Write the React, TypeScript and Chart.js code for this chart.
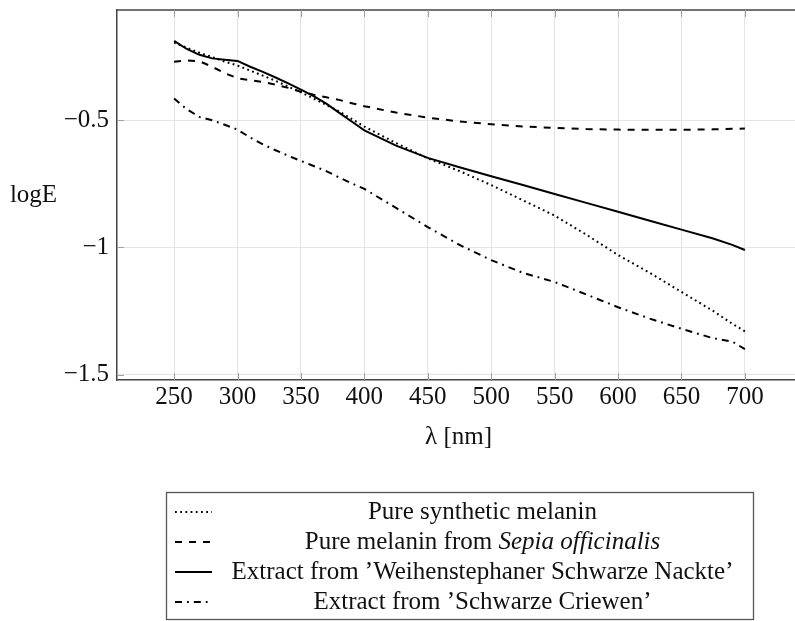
import { useEffect, useRef } from "react";
import { Chart, registerables } from "chart.js";

Chart.register(...registerables);

// ---- data ----
const wavelengths = [250, 260, 270, 280, 290, 300, 310, 320, 330, 340, 350, 360, 370, 380, 390, 400, 425, 450, 475, 500, 525, 550, 575, 600, 625, 650, 675, 690, 700];

const syntheticMelanin = [-0.195, -0.215, -0.235, -0.252, -0.27, -0.285, -0.305, -0.325, -0.345, -0.368, -0.39, -0.415, -0.44, -0.465, -0.495, -0.525, -0.59, -0.65, -0.7, -0.755, -0.815, -0.875, -0.95, -1.03, -1.1, -1.175, -1.25, -1.3, -1.33];

const sepiaMelanin = [-0.27, -0.265, -0.268, -0.29, -0.315, -0.335, -0.343, -0.35, -0.36, -0.373, -0.388, -0.4, -0.41, -0.42, -0.433, -0.445, -0.47, -0.49, -0.505, -0.516, -0.525, -0.53, -0.535, -0.537, -0.538, -0.538, -0.536, -0.534, -0.533];

const weihenstephaner = [-0.188, -0.22, -0.243, -0.257, -0.262, -0.267, -0.29, -0.31, -0.332, -0.355, -0.38, -0.405, -0.435, -0.47, -0.505, -0.54, -0.6, -0.648, -0.685, -0.72, -0.755, -0.79, -0.825, -0.86, -0.895, -0.93, -0.965, -0.99, -1.01];

const criewen = [-0.415, -0.457, -0.487, -0.5, -0.518, -0.537, -0.568, -0.595, -0.618, -0.64, -0.66, -0.68, -0.7, -0.725, -0.748, -0.77, -0.845, -0.92, -0.99, -1.05, -1.1, -1.136, -1.185, -1.235, -1.28, -1.32, -1.357, -1.37, -1.4];

const xTicks = [250, 300, 350, 400, 450, 500, 550, 600, 650, 700];
const yTicks = [-1.5, -1, -0.5];

const legendLabels = [
  "Pure synthetic melanin",
  "Pure melanin from ",
  "Extract from \u2019Weihenstephaner Schwarze Nackte\u2019",
  "Extract from \u2019Schwarze Criewen\u2019",
];
const legendItalic = ["", "Sepia officinalis", "", ""];

const xTitle = "\u03bb [nm]";
const yTitle = "logE";

const FONT = "'Liberation Serif', 'Times New Roman', serif";
const FS = 25;

const dashes: number[][] = [
  [1.8, 3.4],
  [7, 7],
  [],
  [7, 5, 1.8, 5],
];
const allSeries = [syntheticMelanin, sepiaMelanin, weihenstephaner, criewen];

function enlarged(min: number, max: number) {
  const p = (max - min) * 0.1;
  return [min - p, max + p];
}

export default function App() {
  const ref = useRef<HTMLCanvasElement | null>(null);

  useEffect(() => {
    const canvas = ref.current;
    if (!canvas) return;

    const allY = allSeries.flat();
    const [yMin, yMax] = enlarged(Math.min(...allY), Math.max(...allY));
    const [xMin, xMax] = enlarged(Math.min(...wavelengths), Math.max(...wavelengths));

    const decor = {
      id: "decor",
      afterDraw(chart: any) {
        const { ctx, chartArea: a, scales } = chart;
        ctx.save();
        // top border
        ctx.strokeStyle = "#444";
        ctx.lineWidth = 1.5;
        ctx.beginPath();
        ctx.moveTo(a.left, a.top);
        ctx.lineTo(a.right, a.top);
        ctx.stroke();
        // inward tick marks
        ctx.strokeStyle = "#a0a0a0";
        ctx.lineWidth = 1;
        const tl = 7;
        for (const v of xTicks) {
          const px = Math.round(scales.x.getPixelForValue(v)) + 0.5;
          ctx.beginPath();
          ctx.moveTo(px, a.bottom);
          ctx.lineTo(px, a.bottom - tl);
          ctx.moveTo(px, a.top);
          ctx.lineTo(px, a.top + tl);
          ctx.stroke();
        }
        for (const v of yTicks) {
          const py = Math.round(scales.y.getPixelForValue(v)) + 0.5;
          ctx.beginPath();
          ctx.moveTo(a.left, py);
          ctx.lineTo(a.left + tl, py);
          ctx.moveTo(a.right, py);
          ctx.lineTo(a.right - tl, py);
          ctx.stroke();
        }
        // axis titles
        ctx.fillStyle = "#111";
        ctx.font = `${FS}px ${FONT}`;
        ctx.textAlign = "center";
        ctx.textBaseline = "middle";
        ctx.fillText(yTitle, 33.5, 195);
        ctx.fillText(xTitle, 458.5, 437);

        // legend
        const bx = 166, by = 492, bw = 587, bh = 127;
        ctx.strokeStyle = "#555";
        ctx.lineWidth = 1.3;
        ctx.strokeRect(bx + 0.5, by + 0.5, bw, bh);
        const rowY = [512, 542, 572, 602];
        const textCx = 482.5;
        for (let i = 0; i < legendLabels.length; i++) {
          const y = rowY[i];
          ctx.save();
          ctx.strokeStyle = "#000";
          ctx.lineWidth = 2;
          ctx.setLineDash(dashes[i]);
          ctx.beginPath();
          ctx.moveTo(175, y);
          ctx.lineTo(212, y);
          ctx.stroke();
          ctx.restore();

          ctx.textAlign = "left";
          ctx.fillStyle = "#111";
          const normalFont = `${FS}px ${FONT}`;
          const italicFont = `italic ${FS}px ${FONT}`;
          ctx.font = normalFont;
          const w1 = ctx.measureText(legendLabels[i]).width;
          ctx.font = italicFont;
          const w2 = legendItalic[i] ? ctx.measureText(legendItalic[i]).width : 0;
          const x0 = textCx - (w1 + w2) / 2;
          ctx.font = normalFont;
          ctx.fillText(legendLabels[i], x0, y);
          if (legendItalic[i]) {
            ctx.font = italicFont;
            ctx.fillText(legendItalic[i], x0 + w1, y);
          }
        }
        ctx.restore();
      },
    };

    const chart = new Chart(canvas, {
      type: "line",
      data: {
        datasets: allSeries.map((s, i) => ({
          label: legendLabels[i] + legendItalic[i],
          data: wavelengths.map((x, j) => ({ x, y: s[j] })),
          borderColor: "#000",
          borderWidth: 2,
          borderDash: dashes[i],
          pointRadius: 0,
          tension: 0,
          fill: false,
        })),
      },
      options: {
        responsive: false,
        animation: false,
        devicePixelRatio: 1,
        layout: { padding: { top: 10, right: 10, bottom: 201, left: 0 } },
        plugins: { legend: { display: false }, tooltip: { enabled: false } },
        scales: {
          x: {
            type: "linear",
            min: xMin,
            max: xMax,
            afterBuildTicks: (s: any) => {
              s.ticks = xTicks.map((v) => ({ value: v }));
            },
            afterFit: (s: any) => {
              s.height = 40;
              s.paddingLeft = 0;
              s.paddingRight = 0;
              s.paddingTop = 0;
              s.paddingBottom = 0;
            },
            grid: { color: "#e4e4e4", lineWidth: 1, drawTicks: false },
            border: { color: "#444", width: 1.5 },
            ticks: {
              color: "#111",
              font: { family: FONT, size: FS },
              padding: 2,
              maxRotation: 0,
              autoSkip: false,
              callback: (v: any) => String(v),
            },
          },
          y: {
            type: "linear",
            min: yMin,
            max: yMax,
            afterBuildTicks: (s: any) => {
              s.ticks = yTicks.map((v) => ({ value: v }));
            },
            afterFit: (s: any) => {
              s.width = 117;
              s.paddingLeft = 0;
              s.paddingRight = 0;
              s.paddingTop = 0;
              s.paddingBottom = 0;
            },
            grid: { color: "#e4e4e4", lineWidth: 1, drawTicks: false },
            border: { color: "#444", width: 1.5 },
            ticks: {
              color: "#111",
              font: { family: FONT, size: FS },
              padding: 8,
              autoSkip: false,
              callback: (v: any) => (v < 0 ? "\u2212" + String(Math.abs(v)) : String(v)),
            },
          },
        },
      },
      plugins: [decor],
    });

    return () => chart.destroy();
  }, []);

  return (
    <div
      style={{
        position: "fixed",
        left: 0,
        top: 0,
        width: 795,
        height: 621,
        overflow: "hidden",
        background: "#fff",
      }}
    >
      <canvas ref={ref} width={812} height={621} style={{ display: "block" }} />
    </div>
  );
}
